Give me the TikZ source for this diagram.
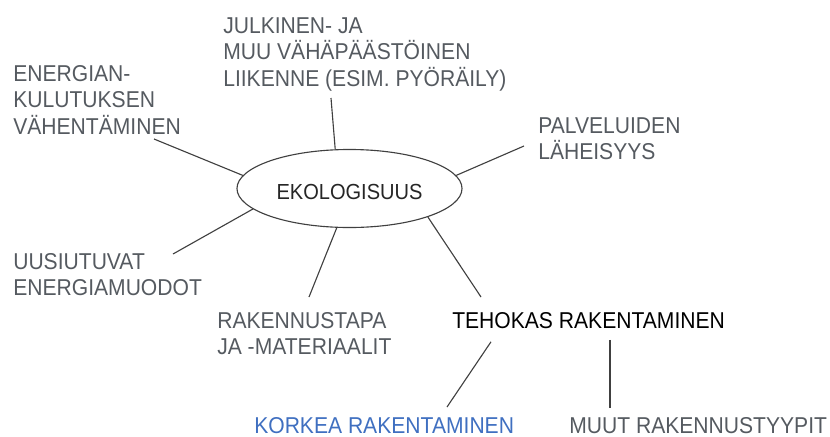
\documentclass[tikz,border=0pt]{standalone}
\usepackage{fontspec}
\setmainfont{Liberation Sans}[FakeStretch=0.92]
\usepackage{tikz}
\usetikzlibrary{shapes.geometric, calc}
\definecolor{tGray}{HTML}{555A60}
\definecolor{tBlue}{HTML}{3F6FC0}
\definecolor{lGray}{HTML}{404040}

\begin{document}
\begin{tikzpicture}[x=0.025cm, y=-0.025cm,
      lbl/.style={anchor=north west, inner sep=0pt, align=left, text=tGray,
                  font=\fontsize{16.3}{18.9}\selectfont},
      ln/.style={lGray, line width=0.8pt}]
    \useasboundingbox (0,0) rectangle (830,436);
    % centre
    \node[draw=lGray, line width=0.8pt, ellipse, minimum width=5.625cm,
          minimum height=1.95cm, inner sep=0pt, text=black!85,
          text height=0.565cm, text depth=0pt,
          font=\fontsize{15.5}{18}\selectfont] (eko) at (349.5,188.5) {EKOLOGISUUS};
    % branches
    \node[lbl] (energ) at (13,65)  {ENERGIAN-\\KULUTUKSEN\\VÄHENTÄMINEN};
    \node[lbl] (julk)  at (223,17) {JULKINEN- JA\\MUU VÄHÄPÄÄSTÖINEN\\LIIKENNE (ESIM. PYÖRÄILY)};
    \node[lbl] (palv)  at (538,117) {PALVELUIDEN\\LÄHEISYYS};
    \node[lbl] (uusi)  at (13,253) {UUSIUTUVAT\\ENERGIAMUODOT};
    \node[lbl] (rakt)  at (217,312) {RAKENNUSTAPA\\JA -MATERIAALIT};
    \node[lbl, text=black] (teho) at (452,312) {TEHOKAS RAKENTAMINEN};
    \node[lbl, text=tBlue] (kork) at (254,417) {KORKEA RAKENTAMINEN};
    \node[lbl] (muut)  at (569,417) {MUUT RAKENNUSTYYPIT};
    % free ends
    \coordinate (energ-e) at (154,139);
    \coordinate (julk-e)  at (331,98);
    \coordinate (palv-e)  at (524,146);
    \coordinate (uusi-e)  at (173,254);
    \coordinate (rakt-e)  at (309,297);
    \coordinate (teho-e)  at (481,297);
    \draw[ln] (eko.173) -- (energ-e);
    \draw[ln] (eko.110) -- (julk-e);
    \draw[ln] (eko.7.6) -- (palv-e);
    \draw[ln] (eko.192) -- (uusi-e);
    \draw[ln] (eko.252) -- (rakt-e);
    \draw[ln] (eko.340) -- (teho-e);
    \draw[ln] ($(teho.south west)+(39,13)$) -- ($(kork.north west)+(193,-10)$);
    \draw[ln] ($(teho.south west)+(158,11)$) -- ($(muut.north west)+(41,-9)$);
  \end{tikzpicture}
\end{document}
